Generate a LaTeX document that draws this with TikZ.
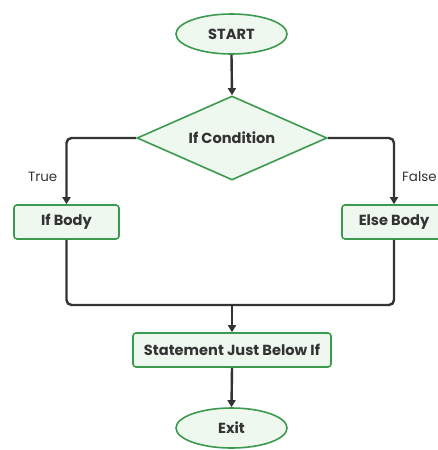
\documentclass[tikz,border=0pt]{standalone}
\usepackage{fontspec}
\setmainfont{Poppins}
\usetikzlibrary{shapes.geometric,arrows.meta}
\definecolor{gstroke}{HTML}{3A9A4E}
\definecolor{gfill}{HTML}{EEF8EF}
\definecolor{ink}{HTML}{333333}
\tikzset{
  base/.style={draw=gstroke, fill=gfill, line width=1.6pt, text=ink, font=\fontsize{14.6pt}{17pt}\selectfont\bfseries, inner sep=0pt},
  term/.style={base, ellipse, minimum width=111pt, minimum height=40pt},
  proc/.style={base, rectangle, rounded corners=3pt, minimum height=34pt},
  cond/.style={base, diamond, minimum width=190pt, minimum height=84pt, aspect=2.26},
  flow/.style={draw=ink, line width=2.4pt, rounded corners=5pt},
  arr/.style={flow, -{Triangle[length=7pt,width=8pt]}},
  lbl/.style={text=ink, font=\fontsize{13.4pt}{16pt}\selectfont, inner sep=0pt}
}
\begin{document}
\begin{tikzpicture}[x=1pt,y=-1pt]
\useasboundingbox (0,0) rectangle (438,450);
\clip (0,0) rectangle (438,450);
\node[term] (start) at (231.5,34) {START};
\node[cond] (cond) at (232,138) {If Condition};
\node[proc, minimum width=105pt] (ifb) at (66.5,222) {If Body};
\node[proc, minimum width=104pt] (elseb) at (394,222) {Else Body};
\node[proc, minimum width=198pt] (stmt) at (232,350) {Statement Just Below If};
\node[term] (exit) at (231.5,428) {Exit};
\coordinate (join) at (232,305);
\draw[arr] (start.south) -- (cond.north);
\draw[arr] (cond.west) -| (ifb.north) node[lbl, pos=0.79, left=8pt] {True};
\draw[arr] (cond.east) -| (elseb.north) node[lbl, pos=0.79, right=7pt] {False};
\draw[flow] (ifb.south) |- (join) -| (elseb.south);
\draw[arr] (join) -- (stmt.north);
\draw[arr] (stmt.south) -- (exit.north);
\end{tikzpicture}
\end{document}
